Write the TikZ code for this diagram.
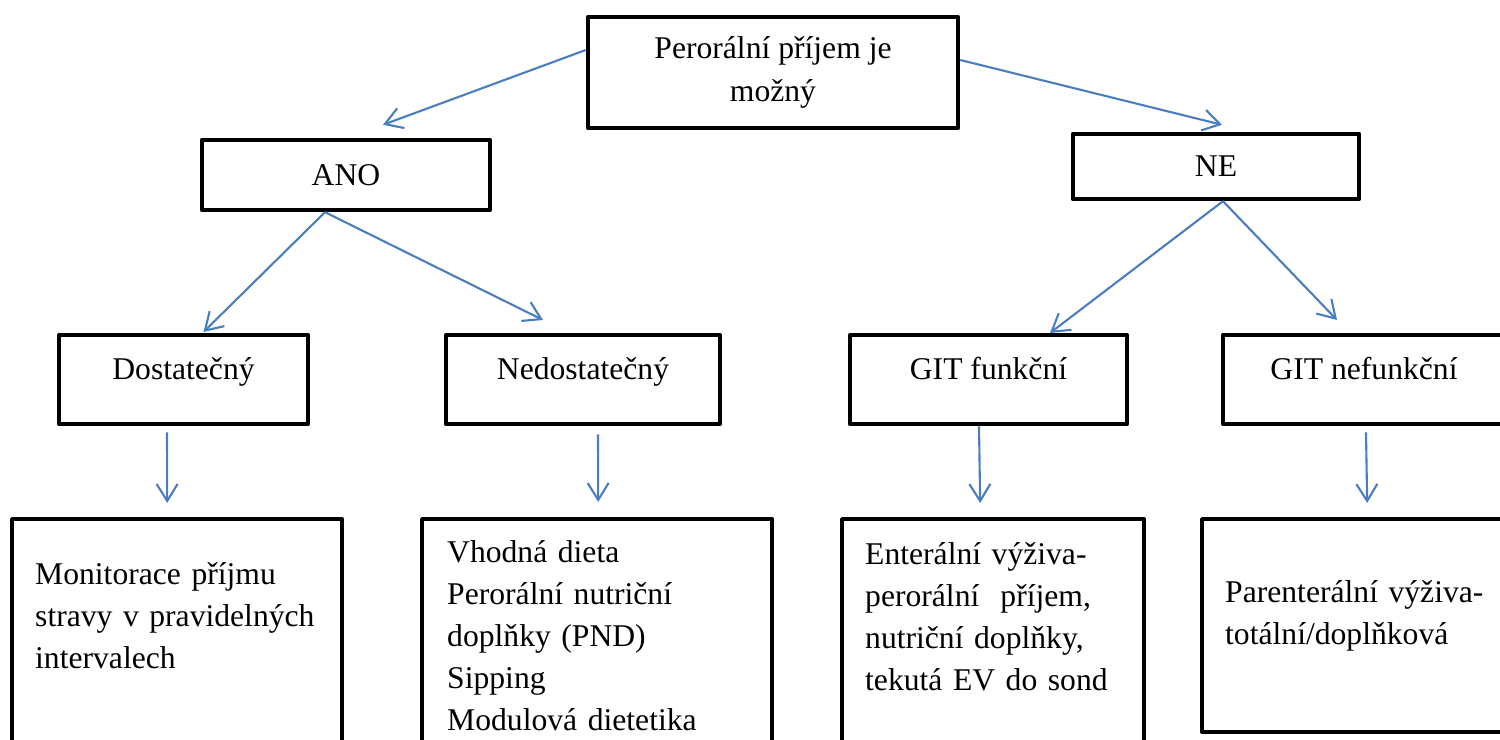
\documentclass[tikz,border=0pt]{standalone}
\usepackage{fontspec}
\setmainfont{Liberation Serif}
\usepackage{tikz}
\usetikzlibrary{arrows.meta}
\definecolor{arrowblue}{RGB}{74,126,193}

\begin{document}
\begin{tikzpicture}[
    font=\fontsize{9pt}{12pt}\selectfont,
    box/.style={rectangle, draw, line width=1.25pt, line join=round, inner sep=0pt, align=center},
    midbox/.style={box, anchor=north, text height=0.44cm, text depth=0.45cm},
    leafbox/.style={box, anchor=north west, align=left, inner ysep=0pt, inner xsep=0.23cm},
    arrow/.style={-{Straight Barb[length=1.7mm, width=2.1mm]}, draw=arrowblue, line width=0.6pt}
]
\path[use as bounding box, clip] (0,0) rectangle (15,-7.4);

\node[box, minimum width=3.7cm, minimum height=1.11cm] (orally) at (7.73,-0.725) {Perorální příjem je\\možný};
\node[box, minimum width=2.88cm, minimum height=0.70cm] (ano) at (3.46,-1.75) {ANO};
\node[box, minimum width=2.86cm, minimum height=0.65cm] (ne) at (12.16,-1.665) {NE};

\node[midbox, minimum width=2.49cm] (enough) at (1.835,-3.33) {Dostatečný};
\node[midbox, minimum width=2.74cm] (notenough) at (5.83,-3.33) {Nedostatečný};
\node[midbox, minimum width=2.77cm] (gitok) at (9.885,-3.33) {GIT funkční};
\node[midbox, minimum width=2.82cm] (gitfail) at (13.64,-3.33) {GIT nefunkční};

\node[leafbox, text width=2.84cm, text height=0.65cm, text depth=1.78cm] (monitor) at (0.10,-5.17)
    {Monitorace příjmu\\stravy v pravidelných\\intervalech};
\node[leafbox, inner xsep=0.25cm, text width=3.00cm, text height=0.43cm, text depth=2.00cm] (diet) at (4.20,-5.17)
    {Vhodná dieta\\Perorální nutriční\\doplňky (PND)\\Sipping\\Modulová dietetika};
\node[leafbox, text width=2.56cm, text height=0.45cm, text depth=1.98cm] (enteral) at (8.40,-5.17)
    {Enterální výživa-\\perorální\ \ příjem,\\nutriční doplňky,\\tekutá EV do sond};
\node[leafbox, text width=2.64cm, text height=0.83cm, text depth=1.30cm] (parenteral) at (12.00,-5.17)
    {Parenterální výživa-\\totální/doplňková};

\draw[arrow] ([yshift=0.225cm]orally.west) -- ([xshift=0.37cm, yshift=0.13cm]ano.north);
\draw[arrow] ([yshift=0.125cm]orally.east) -- ([xshift=0.06cm, yshift=0.07cm]ne.north);
\draw[arrow] ([xshift=-0.21cm]ano.south) -- ([xshift=0.2cm, yshift=0.01cm]enough.north);
\draw[arrow] ([xshift=-0.21cm]ano.south) -- ([xshift=-0.40cm, yshift=0.13cm]notenough.north);
\draw[arrow] ([xshift=0.07cm]ne.south) -- ([xshift=0.615cm]gitok.north);
\draw[arrow] ([xshift=0.07cm]ne.south) -- ([xshift=-0.27cm, yshift=0.13cm]gitfail.north);
\draw[arrow] ([xshift=-0.165cm, yshift=-0.06cm]enough.south) -- ([xshift=-0.10cm, yshift=0.14cm]monitor.north);
\draw[arrow] ([xshift=0.15cm, yshift=-0.08cm]notenough.south) -- ([xshift=0.01cm, yshift=0.15cm]diet.north);
\draw[arrow] ([xshift=-0.095cm]gitok.south) -- ([xshift=-0.13cm, yshift=0.14cm]enteral.north);
\draw[arrow] ([xshift=0.02cm, yshift=-0.06cm]gitfail.south) -- ([xshift=0.10cm, yshift=0.14cm]parenteral.north);

\end{tikzpicture}
\end{document}
